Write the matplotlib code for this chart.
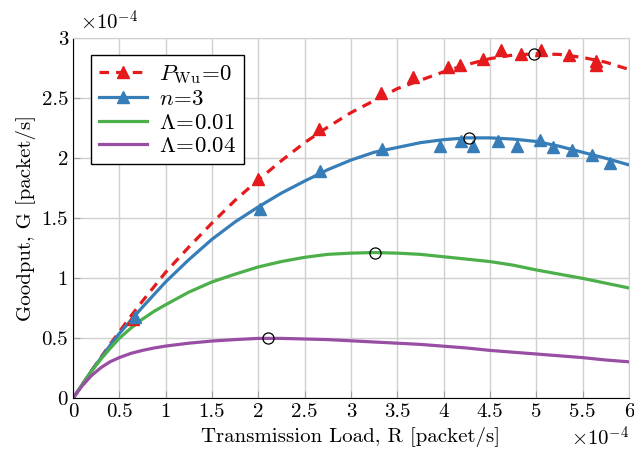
import numpy as np
import matplotlib
matplotlib.use('Agg')
from matplotlib import pyplot as plt

plt.rcParams['font.family'] = 'serif'
plt.rcParams['font.serif'] = ['cmr10']
plt.rcParams['mathtext.fontset'] = 'cm'
plt.rcParams['axes.formatter.use_mathtext'] = True

# curves, both axes in units of 1e-4 packet/s
R = [0, 0.1, 0.2, 0.3, 0.4, 0.5, 0.625, 0.75, 0.875, 1.0, 1.25, 1.5, 1.75, 2.0, 2.25, 2.5, 2.75, 3.0,
     3.25, 3.5, 3.75, 4.0, 4.25, 4.5, 4.75, 5.0, 5.25, 5.5, 5.75, 6.0]
G_wu = [0, 0.115, 0.23, 0.34, 0.45, 0.555, 0.685, 0.81, 0.93, 1.05, 1.26, 1.46, 1.65, 1.82, 1.98, 2.13, 2.26, 2.38,
        2.48, 2.58, 2.65, 2.72, 2.78, 2.83, 2.86, 2.87, 2.865, 2.84, 2.80, 2.74]
G_n3 = [0, 0.115, 0.23, 0.335, 0.44, 0.54, 0.65, 0.76, 0.865, 0.97, 1.155, 1.325, 1.47, 1.595, 1.71, 1.81, 1.905, 1.985,
        2.05, 2.09, 2.13, 2.155, 2.17, 2.17, 2.16, 2.14, 2.10, 2.05, 2.00, 1.945]
G_l01 = [0, 0.115, 0.225, 0.325, 0.415, 0.50, 0.585, 0.66, 0.725, 0.78, 0.885, 0.97, 1.035, 1.095, 1.14, 1.175, 1.20, 1.21,
         1.215, 1.21, 1.20, 1.18, 1.16, 1.14, 1.11, 1.07, 1.035, 1.00, 0.96, 0.92]
G_l04 = [0, 0.105, 0.19, 0.255, 0.305, 0.34, 0.375, 0.40, 0.42, 0.436, 0.46, 0.478, 0.49, 0.50, 0.50, 0.495, 0.49, 0.48,
         0.47, 0.46, 0.45, 0.435, 0.42, 0.40, 0.385, 0.37, 0.355, 0.34, 0.32, 0.305]

# simulation points
R_sim_wu = [0.65, 2.0, 2.66, 3.32, 3.67, 4.05, 4.18, 4.42, 4.62, 4.83, 5.05, 5.35, 5.64, 5.64]
G_sim_wu = [0.66, 1.83, 2.24, 2.54, 2.68, 2.76, 2.78, 2.83, 2.90, 2.87, 2.90, 2.86, 2.81, 2.78]
R_sim_n3 = [0.67, 2.02, 2.67, 3.34, 3.96, 4.19, 4.32, 4.59, 4.79, 5.04, 5.18, 5.39, 5.60, 5.80]
G_sim_n3 = [0.68, 1.58, 1.89, 2.08, 2.10, 2.14, 2.10, 2.14, 2.10, 2.15, 2.09, 2.07, 2.03, 1.96]

# maxima
R_max = [4.98, 4.27, 3.26, 2.10]
G_max = [2.87, 2.17, 1.21, 0.50]

xticks = [0, 0.5, 1, 1.5, 2, 2.5, 3, 3.5, 4, 4.5, 5, 5.5, 6]
yticks = [0, 0.5, 1, 1.5, 2, 2.5, 3]

red = '#e41a1c'
blue = '#377eb8'
green = '#4daf4a'
purple = '#984ea3'

fig = plt.figure(figsize=(6.34, 4.66), dpi=100)
ax = fig.add_axes([0.115, 0.145, 0.877, 0.773])

ax.plot(R, G_wu, '--', color=red, lw=2.3, dashes=(3, 2.2))
ax.plot(R, G_n3, '-', color=blue, lw=2.3, solid_joinstyle='round')
ax.plot(R, G_l01, '-', color=green, lw=2.3, solid_joinstyle='round')
ax.plot(R, G_l04, '-', color=purple, lw=2.3, solid_joinstyle='round')
ax.plot(R_sim_wu, G_sim_wu, '^', color=red, ms=8, ls='none')
ax.plot(R_sim_n3, G_sim_n3, '^', color=blue, ms=8, ls='none')
ax.plot(R_max, G_max, 'o', mfc='none', mec='black', ms=8, mew=0.9, ls='none')

# legend handles
h1, = ax.plot([], [], '--', color=red, lw=2.3, marker='^', ms=8, dashes=(3, 2.2))
h2, = ax.plot([], [], '-', color=blue, lw=2.3, marker='^', ms=8)
h3, = ax.plot([], [], '-', color=green, lw=2.3)
h4, = ax.plot([], [], '-', color=purple, lw=2.3)
leg = ax.legend([h1, h2, h3, h4],
                [r'$P_{\mathrm{Wu}}\!=\!0$', r'$n\!=\!3$', r'$\Lambda\!=\!0.01$', r'$\Lambda\!=\!0.04$'],
                loc='upper left', bbox_to_anchor=(0.012, 0.985), fontsize=16.5,
                fancybox=False, framealpha=1, edgecolor='black', handlelength=2.1,
                borderpad=0.35, labelspacing=0.15, handletextpad=0.5)
leg.get_frame().set_linewidth(1.0)

ax.set_xlim(0, 6)
ax.set_ylim(0, 3)
ax.set_xticks(xticks)
ax.set_yticks(yticks)
ax.set_xticklabels(['%g' % v for v in xticks])
ax.set_yticklabels(['%g' % v for v in yticks])

ax.text(0.012, 1.012, r'$\times10^{-4}$', transform=ax.transAxes, fontsize=15, ha='left', va='bottom')
ax.text(1.0, -0.075, r'$\times10^{-4}$', transform=ax.transAxes, fontsize=15, ha='right', va='top')

ax.grid(True, color='#d0d0d0', lw=1.0)
ax.set_axisbelow(True)
ax.tick_params(direction='in', length=5, color='#a0a0a0', labelsize=15, top=False, right=False)
ax.spines['left'].set_color('black')
ax.spines['bottom'].set_color('black')
ax.spines['top'].set_color('#d0d0d0')
ax.spines['right'].set_color('#d0d0d0')

ax.set_xlabel('Transmission Load, R [packet/s]', fontsize=15)
ax.set_ylabel('Goodput, G [packet/s]', fontsize=15)

fig.savefig('out.png', dpi=100)
